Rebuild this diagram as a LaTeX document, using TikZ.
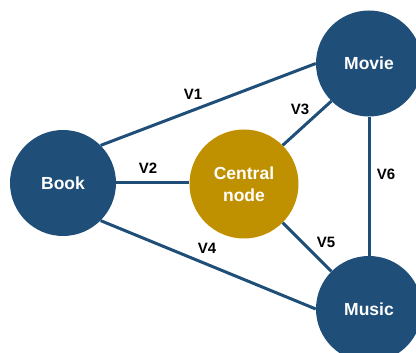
\documentclass[tikz,border=0pt]{standalone}
\usepackage{fontspec}
\setmainfont{Liberation Sans}
\definecolor{nblue}{HTML}{1F4E79}
\definecolor{ngold}{HTML}{BF9000}
\begin{document}
\begin{tikzpicture}[x=1pt,y=-1pt,
  mainnode/.style={circle, fill=nblue, minimum size=106pt, inner sep=0pt, text=white,
    font=\fontsize{17.5}{22}\selectfont\bfseries},
  centernode/.style={circle, fill=ngold, minimum size=109pt, inner sep=0pt, text=white,
    align=center, font=\fontsize{17.5}{22}\selectfont\bfseries},
  link/.style={draw=nblue, line width=3pt},
  lab/.style={font=\fontsize{15}{18}\selectfont\bfseries, text=black, inner sep=0pt}]
\useasboundingbox (0,0) rectangle (416,353);
\node[mainnode] (book) at (63,183) {Book};
\node[mainnode] (movie) at (369,63.5) {Movie};
\node[mainnode] (music) at (369,309) {Music};
\node[centernode] (central) at (244,184) {Central\\node};
\draw[link] (book.45) -- (movie.west);
\draw[link] (book.east) -- (central.west |- book.east);
\draw[link] (central.45) -- (movie.225);
\draw[link] (book.-45) -- (music.west);
\draw[link] (central.-45) -- (music.135);
\draw[link] (movie.south) -- (music.north);
\node[lab] (v1) at (193,94) {V1};
\node[lab] (v2) at (148,168) {V2};
\node[lab] (v3) at (300,109) {V3};
\node[lab] (v4) at (207,248) {V4};
\node[lab] (v5) at (326,242) {V5};
\node[lab] (v6) at (386,174) {V6};
\end{tikzpicture}
\end{document}
